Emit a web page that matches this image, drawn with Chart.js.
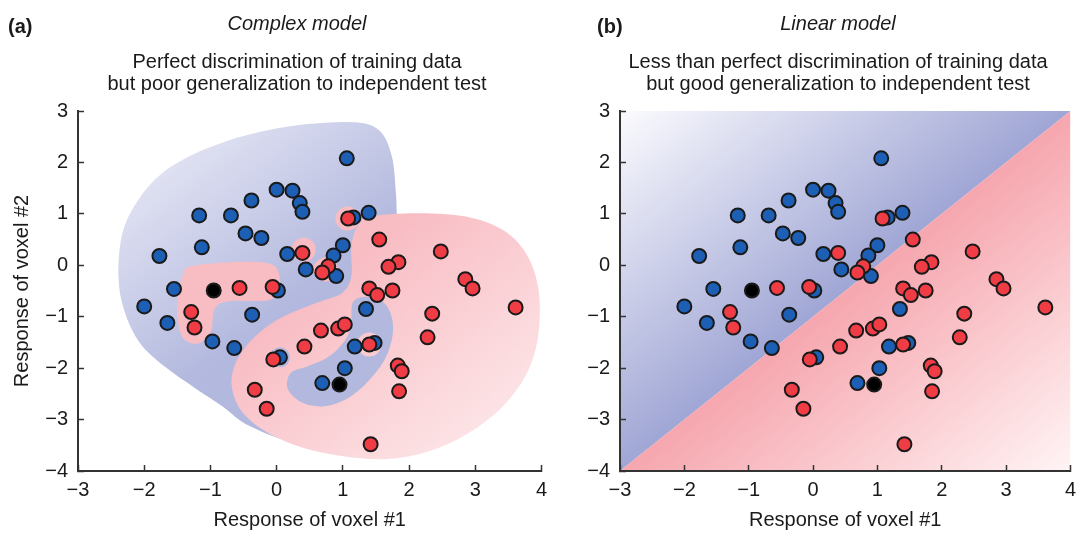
<!DOCTYPE html>
<html>
<head>
<meta charset="utf-8">
<title>Complex vs linear model</title>
<script src="https://cdn.jsdelivr.net/npm/chart.js@4.4.1/dist/chart.umd.min.js"></script>
<style>
  html, body { margin: 0; padding: 0; background: #fff; }
  #wrap { position: relative; width: 1089px; height: 534px; overflow: hidden; }
  canvas { position: absolute; top: 0; }
  #panelA { left: 0; }
  #panelB { left: 570px; }
</style>
</head>
<body>
<div id="wrap">
  <canvas id="panelA" width="560" height="534"></canvas>
  <canvas id="panelB" width="519" height="534"></canvas>
</div>
<script>
// ----------------------------
// DATA
// ----------------------------
// training patterns, class A (blue)
const blueX = [1.06, 0.00, 0.24, 0.35, 0.39, -0.38, -1.17, -0.69, -0.47, -0.23, -1.13, -1.77, 0.16, 1.00, 0.86, 0.44,
               0.90, 1.16, 1.39, -1.55, -2.00, -1.65, -0.37, -0.97, -0.64, 0.02, 0.05, 1.35, 1.48, 1.18, 1.03, 0.69];
const blueY = [2.08, 1.47, 1.45, 1.21, 1.04, 1.26, 0.97, 0.97, 0.62, 0.53, 0.35, 0.18, 0.22, 0.39, 0.19, -0.08,
               -0.21, 0.93, 1.02, -0.46, -0.80, -1.12, -0.96, -1.48, -1.61, -0.49, -1.79, -0.85, -1.51, -1.58, -2.00, -2.29];

// training patterns, class B (red)
const redX = [1.08, 0.39, 0.78, 0.69, -0.56, -0.06, -1.29, -1.24, 0.67, 0.93, 1.03, 0.42, -0.05, -0.33, -0.15, 1.55,
              2.48, 1.84, 1.69, 2.85, 2.96, 1.40, 1.52, 1.75, 3.61, 2.35, 2.28, 1.40, 1.83, 1.89, 1.85, 1.42];
const redY = [0.91, 0.24, -0.02, -0.14, -0.44, -0.42, -0.91, -1.21, -1.27, -1.23, -1.15, -1.58, -1.83, -2.42, -2.79, 0.50,
              0.27, 0.06, -0.03, -0.27, -0.45, -0.45, -0.58, -0.49, -0.82, -0.94, -1.40, -1.54, -1.95, -2.06, -2.45, -3.48];

// independent test patterns (black)
const testX = [-0.95, 0.95];
const testY = [-0.49, -2.32];

const xTicks = [-3, -2, -1, 0, 1, 2, 3, 4];
const yTicks = [-4, -3, -2, -1, 0, 1, 2, 3];

// decision regions of the complex model (voxel #1, voxel #2)
const complexBlueRegion = [[-2.39, -0.21], [-2.30, -0.89], [-2.06, -1.52], [-1.68, -1.98], [-1.23, -2.39], [-0.82, -2.74],
  [-0.40, -3.13], [0.36, -3.42], [1.41, -3.04], [1.86, -1.28], [1.86, 0.08], [1.82, 0.86], [1.80, 1.44], [1.74, 2.12],
  [1.56, 2.61], [1.19, 2.78], [0.43, 2.74], [-0.40, 2.55], [-1.15, 2.22], [-1.73, 1.79], [-2.10, 1.25], [-2.33, 0.62]];
const complexRedRegion = [[1.23, 0.78], [1.44, 0.95], [2.17, 1.01], [2.92, 0.93], [3.45, 0.66], [3.79, 0.18], [3.96, -0.51],
  [3.95, -1.38], [3.78, -2.10], [3.42, -2.74], [2.89, -3.27], [2.29, -3.62], [1.64, -3.77], [0.93, -3.70], [0.28, -3.50],
  [-0.22, -3.19], [-0.55, -2.80], [-0.68, -2.32], [-0.61, -1.87], [-0.40, -1.48], [-0.10, -1.15], [0.25, -0.91],
  [0.63, -0.72], [0.99, -0.54], [1.13, -0.21], [1.13, 0.37]];
const complexBlueInner = [[1.16, -0.70], [1.46, -0.62], [1.68, -0.82], [1.76, -1.25], [1.65, -1.79], [1.38, -2.26],
  [1.07, -2.59], [0.73, -2.74], [0.40, -2.68], [0.17, -2.41], [0.21, -2.10], [0.48, -1.96], [0.76, -1.80],
  [0.98, -1.55], [1.12, -1.22]];
const complexRedLeft = [[-1.30, -0.02], [-0.70, 0.06], [-0.13, 0.04], [0.03, -0.14], [0.03, -0.47], [-0.13, -0.68],
  [-0.73, -0.70], [-0.94, -0.86], [-0.99, -1.28], [-1.18, -1.52], [-1.41, -1.42], [-1.50, -0.99], [-1.48, -0.51],
  [-1.41, -0.18]];
const complexRedSpots = [[1.07, 0.91], [0.41, 0.30], [0.74, -0.08], [1.40, -1.54]];
const complexBlueSpots = [[0.05, -1.79]];

// boundary of the linear model
const linearBoundary = [[-3, -4], [4, 3]];

const xTitle = "Response of voxel #1";
const yTitle = "Response of voxel #2";

// ----------------------------
// STYLE
// ----------------------------
const FONT = '"Liberation Sans", Arial, Helvetica, sans-serif';
const INK = "#1a1a1a";
const AXIS = "#333";
Chart.defaults.font.family = FONT;
Chart.defaults.font.size = 20;
Chart.defaults.color = INK;

const toPoints = (xs, ys) => xs.map((x, i) => ({ x: x, y: ys[i] }));
const fmt = v => v < 0 ? "\u2212" + Math.abs(v) : String(v);

// ----------------------------
// REGION SHADING
// ----------------------------
// blue fades in from the top-left corner towards the boundary,
// red fades out from the boundary towards the bottom-right corner
function sideFills(chart, stops) {
    const { ctx, chartArea: a, scales: { x, y } } = chart;
    const [p, q] = linearBoundary.map(([vx, vy]) => [x.getPixelForValue(vx), y.getPixelForValue(vy)]);
    let nx = p[1] - q[1], ny = q[0] - p[0];
    const len = Math.hypot(nx, ny);
    nx /= len; ny /= len;
    const s1 = (a.left - p[0]) * nx + (a.top - p[1]) * ny;
    const s2 = (a.right - p[0]) * nx + (a.bottom - p[1]) * ny;

    const blue = ctx.createLinearGradient(a.left, a.top, a.left - s1 * nx, a.top - s1 * ny);
    blue.addColorStop(0, stops.blue[0]);
    blue.addColorStop(1, stops.blue[1]);
    const red = ctx.createLinearGradient(a.right - s2 * nx, a.bottom - s2 * ny, a.right, a.bottom);
    red.addColorStop(0, stops.red[0]);
    red.addColorStop(1, stops.red[1]);
    return { blue: blue, red: red };
}

function closedCurve(ctx, pts) {
    const n = pts.length;
    ctx.moveTo(pts[0][0], pts[0][1]);
    for (let i = 0; i < n; i++) {
        const p0 = pts[(i - 1 + n) % n], p1 = pts[i], p2 = pts[(i + 1) % n], p3 = pts[(i + 2) % n];
        ctx.bezierCurveTo(
            p1[0] + (p2[0] - p0[0]) / 6, p1[1] + (p2[1] - p0[1]) / 6,
            p2[0] - (p3[0] - p1[0]) / 6, p2[1] - (p3[1] - p1[1]) / 6,
            p2[0], p2[1]);
    }
    ctx.closePath();
}

function regionsPlugin(layers, stops) {
    return {
        id: "regions",
        beforeDraw(chart) {
            const { ctx, chartArea: a, scales: { x, y } } = chart;
            const fills = sideFills(chart, stops);
            const toPx = ([vx, vy]) => [x.getPixelForValue(vx), y.getPixelForValue(vy)];
            ctx.save();
            ctx.beginPath();
            ctx.rect(a.left, a.top, a.width, a.height);
            ctx.clip();
            layers.forEach(layer => {
                ctx.fillStyle = fills[layer.side];
                ctx.beginPath();
                if (layer.spots) {
                    layer.spots.map(toPx).forEach(([px, py]) => {
                        ctx.moveTo(px + layer.radius, py);
                        ctx.arc(px, py, layer.radius, 0, Math.PI * 2);
                    });
                } else if (layer.smooth) {
                    closedCurve(ctx, layer.outline.map(toPx));
                } else {
                    layer.outline.map(toPx).forEach(([px, py], i) => i ? ctx.lineTo(px, py) : ctx.moveTo(px, py));
                    ctx.closePath();
                }
                ctx.fill();
            });
            ctx.restore();
        }
    };
}

// ----------------------------
// PANEL HEADINGS
// ----------------------------
function headerPlugin(letter, title, lines, letterX, centerX) {
    return {
        id: "header",
        afterDraw(chart) {
            const ctx = chart.ctx;
            ctx.save();
            ctx.fillStyle = INK;
            ctx.textBaseline = "alphabetic";
            ctx.textAlign = "left";
            ctx.font = "bold 20px " + FONT;
            ctx.fillText(letter, letterX, 33);
            ctx.textAlign = "center";
            ctx.font = "italic 20px " + FONT;
            ctx.fillText(title, centerX, 29.5);
            ctx.font = "20px " + FONT;
            lines.forEach((t, i) => ctx.fillText(t, centerX, 68 + i * 22));
            ctx.restore();
        }
    };
}

// ----------------------------
// CHART
// ----------------------------
function makePanel(canvasId, cfg) {
    return new Chart(document.getElementById(canvasId), {
        type: "scatter",
        data: {
            datasets: [
                { label: "Test", data: toPoints(testX, testY), backgroundColor: "#000", order: 1 },
                { label: "Class B", data: toPoints(redX, redY), backgroundColor: "#f03c44", order: 2 },
                { label: "Class A", data: toPoints(blueX, blueY), backgroundColor: "#1c5fb4", order: 3 }
            ]
        },
        options: {
            responsive: false,
            animation: false,
            events: [],
            layout: { padding: { top: 111, right: cfg.padRight, left: 0, bottom: 0 } },
            elements: { point: { radius: 7, hoverRadius: 7, borderWidth: 2, borderColor: INK } },
            plugins: { legend: { display: false }, tooltip: { enabled: false } },
            scales: {
                x: {
                    type: "linear",
                    min: xTicks[0],
                    max: xTicks[xTicks.length - 1],
                    afterBuildTicks: s => { s.ticks = xTicks.map(v => ({ value: v })); },
                    afterFit: s => { s.height = 63; },
                    grid: { drawOnChartArea: false, drawTicks: true, tickLength: -6, tickColor: AXIS, tickWidth: 1.5 },
                    border: { display: true, color: AXIS, width: 2 },
                    ticks: { padding: 13, color: INK, callback: fmt },
                    title: { display: true, text: xTitle, color: INK, padding: { top: 0, bottom: 2 } }
                },
                y: {
                    type: "linear",
                    min: yTicks[0],
                    max: yTicks[yTicks.length - 1],
                    afterBuildTicks: s => { s.ticks = yTicks.map(v => ({ value: v })); },
                    afterFit: s => { s.width = cfg.axisWidth; },
                    grid: { drawOnChartArea: false, drawTicks: true, tickLength: -6, tickColor: AXIS, tickWidth: 1.5 },
                    border: { display: true, color: AXIS, width: 2 },
                    ticks: { padding: 16, color: INK, callback: fmt },
                    title: { display: cfg.yTitle, text: yTitle, color: INK, padding: { top: 10, bottom: 0 } }
                }
            }
        },
        plugins: [regionsPlugin(cfg.layers, cfg.stops), cfg.header]
    });
}

makePanel("panelA", {
    padRight: 18,
    axisWidth: 78,
    yTitle: true,
    stops: { blue: ["rgb(247,247,252)", "rgb(178,184,222)"], red: ["rgb(248,188,195)", "rgb(254,240,241)"] },
    layers: [
        { side: "blue", smooth: true, outline: complexBlueRegion },
        { side: "red", smooth: true, outline: complexRedRegion },
        { side: "blue", smooth: true, outline: complexBlueInner },
        { side: "red", smooth: true, outline: complexRedLeft },
        { side: "red", spots: complexRedSpots, radius: 12 },
        { side: "blue", spots: complexBlueSpots, radius: 10 }
    ],
    header: headerPlugin("(a)", "Complex model",
        ["Perfect discrimination of training data", "but poor generalization to independent test"], 8, 297)
});

makePanel("panelB", {
    padRight: 7,
    axisWidth: 50,
    yTitle: false,
    stops: { blue: ["rgb(251,251,254)", "rgb(160,166,213)"], red: ["rgb(246,166,174)", "rgb(255,244,245)"] },
    layers: [
        { side: "blue", smooth: false, outline: [[xTicks[0], yTicks[yTicks.length - 1]], linearBoundary[1], linearBoundary[0]] },
        { side: "red", smooth: false, outline: [linearBoundary[1], [xTicks[xTicks.length - 1], yTicks[0]], linearBoundary[0]] }
    ],
    header: headerPlugin("(b)", "Linear model",
        ["Less than perfect discrimination of training data", "but good generalization to independent test"], 27, 268)
});
</script>
</body>
</html>
